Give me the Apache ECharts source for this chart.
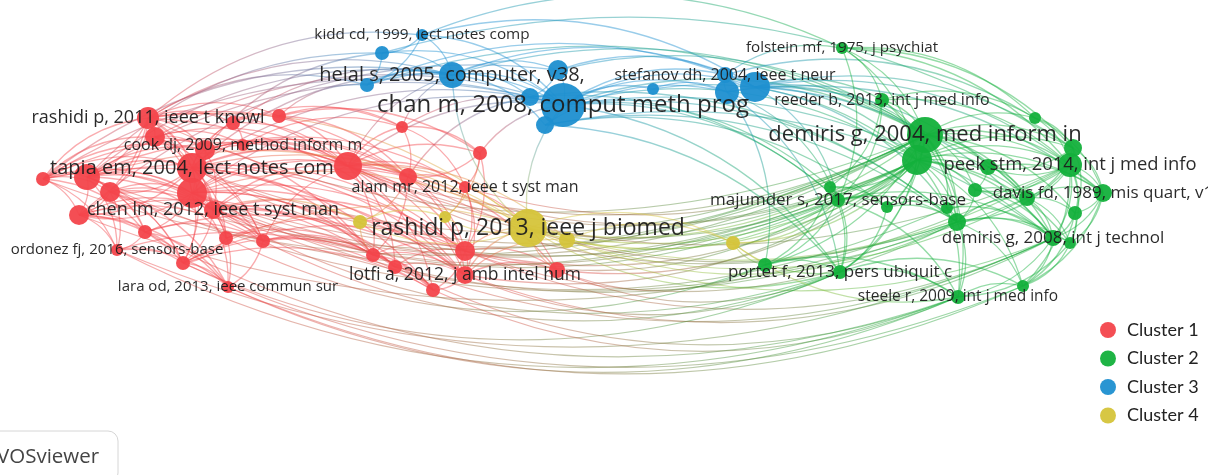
<!DOCTYPE html>
<html>
<head>
<meta charset="utf-8">
<script src="https://cdn.jsdelivr.net/npm/echarts@6/dist/echarts.min.js"></script>
<style>
  html, body { margin: 0; padding: 0; background: #fff; }
  #main { width: 1208px; height: 475px; }
</style>
</head>
<body>
<div id="main"></div>
<script>
// 聚类名称
var clusterNames = ["Cluster 1", "Cluster 2", "Cluster 3", "Cluster 4"];

// 节点：id、地图坐标、权重、所属聚类、标签
var nodeIds = [
  "r0", "r1", "r2", "r3", "r4", "r5", "r6", "r7", "r8", "r9",
  "r10", "r11", "r12", "r13", "r14", "r15", "r16", "r17", "r18", "r19",
  "r20", "r21", "r22", "r23", "r24", "r25", "r26", "r27", "r28", "r29",
  "y0", "y1", "y2", "y3", "y4",
  "b0", "b1", "b2", "b3", "b4", "b5", "b6", "b7", "b8", "b9", "b10", "b11",
  "g0", "g1", "g2", "g3", "g4", "g5", "g6", "g7", "g8", "g9", "g10", "g11",
  "g12", "g13", "g14", "g15", "g16", "g17", "g18", "g19", "g20", "g21", "g22"
];
var mapX = [
  43, 148, 155, 87, 192, 205, 110, 192, 79, 213,
  145, 226, 263, 117, 183, 228, 233, 279, 243, 348,
  402, 480, 408, 465, 373, 395, 465, 465, 433, 557,
  528, 567, 360, 445, 733,
  422, 382, 367, 452, 558, 530, 563, 545, 653, 727, 755, 725,
  842, 882, 925, 917, 1035, 1073, 1070, 988, 975, 830, 838, 887,
  947, 957, 1027, 1103, 1075, 1053, 1070, 765, 840, 958, 1023
];
var mapY = [
  179, 118, 137, 177, 168, 150, 192, 193, 215, 210,
  232, 238, 241, 250, 263, 287, 123, 116, 145, 166,
  127, 153, 177, 187, 255, 267, 251, 275, 290, 270,
  228, 240, 222, 217, 243,
  35, 53, 85, 75, 70, 97, 105, 125, 89, 92, 87, 75,
  48, 100, 135, 160, 118, 148, 165, 167, 190, 187, 200, 207,
  208, 222, 198, 193, 213, 238, 243, 265, 272, 297, 286
];
var weight = [
  7, 11, 10, 13, 15, 10, 10, 15, 10, 9,
  7, 7, 7, 6, 7, 6, 7, 7, 6, 14,
  6, 7, 9, 6, 7, 7, 10, 9, 7, 8,
  19, 8, 7, 6, 7,
  6, 7, 7, 13, 10, 9, 22, 9, 6, 12, 15, 8,
  6, 7, 18, 15, 6, 9, 12, 8, 7, 6, 7, 6,
  6, 9, 8, 9, 7, 8, 6, 7, 7, 7, 6
];
var cluster = [
  0, 0, 0, 0, 0, 0, 0, 0, 0, 0,
  0, 0, 0, 0, 0, 0, 0, 0, 0, 0,
  0, 0, 0, 0, 0, 0, 0, 0, 0, 0,
  3, 3, 3, 3, 3,
  2, 2, 2, 2, 2, 2, 2, 2, 2, 2, 2, 2,
  1, 1, 1, 1, 1, 1, 1, 1, 1, 1, 1, 1,
  1, 1, 1, 1, 1, 1, 1, 1, 1, 1, 1
];
var labels = {
  r1: "rashidi p, 2011, ieee t knowl",
  r4: "tapia em, 2004, lect notes com",
  r9: "chen lm, 2012, ieee t syst man",
  r13: "ordonez fj, 2016, sensors-base",
  r15: "lara od, 2013, ieee commun sur",
  r18: "cook dj, 2009, method inform m",
  r23: "alam mr, 2012, ieee t syst man",
  r27: "lotfi a, 2012, j amb intel hum",
  y0: "rashidi p, 2013, ieee j biomed",
  b0: "kidd cd, 1999, lect notes comp",
  b3: "helal s, 2005, computer, v38,",
  b6: "chan m, 2008, comput meth prog",
  b11: "stefanov dh, 2004, ieee t neur",
  g0: "folstein mf, 1975, j psychiat",
  g1: "reeder b, 2013, int j med info",
  g2: "demiris g, 2004, med inform in",
  g6: "peek stm, 2014, int j med info",
  g10: "majumder s, 2017, sensors-base",
  g15: "davis fd, 1989, mis quart, v1",
  g17: "demiris g, 2008, int j technol",
  g20: "portet f, 2013, pers ubiquit c",
  g21: "steele r, 2009, int j med info"
};

// 连线：源节点 > 目标节点列表
var linkSpec = [
  "r0>r1 r2 r3 r4 r5 r6 r7 r8 r9 r10 r13 r19 r27",
  "r1>r2 r3 r4 r5 r6 r7 r8 r9 r16 r17 r19 r22 r27",
  "r2>r4 r5 r7 r9 r18 r19 r24 r12",
  "r3>r4 r5 r6 r7 r8 r9 r10 r13 r14 r19 r26 r11",
  "r4>r5 r6 r7 r8 r9 r11 r12 r16 r18 r19 r22 r24 r26 r27 r28 r14",
  "r5>r7 r9 r16 r18 r19 r23 r22",
  "r6>r7 r8 r9 r10 r13 r14 r15 r12",
  "r7>r8 r9 r10 r11 r12 r14 r15 r19 r22 r24 r26 r27 r25",
  "r8>r9 r10 r13 r14 r15 r24 r12",
  "r9>r11 r12 r14 r15 r19 r22 r25 r26 r27 r28",
  "r10>r13 r14 r15 r27 r12",
  "r11>r12 r14 r24 r26",
  "r12>r15 r24 r25 r28 r19",
  "r13>r14 r15 r28",
  "r14>r15 r26 r28 r24",
  "r16>r17 r18 r19 r20",
  "r17>r19 r20 r21 r22",
  "r18>r19 r22 r20",
  "r19>r20 r21 r22 r23 r24 r25 r26 r27 r28 r29",
  "r20>r21 r22 r23",
  "r21>r22 r23 r26",
  "r22>r23 r24 r26 r27",
  "r23>r26 r27 r29",
  "r24>r25 r26 r27 r28",
  "r25>r26 r27 r28",
  "r26>r27 r28 r29",
  "r27>r28 r29",
  "g2>r0 r1 r3 r4 r7 r9 r19 r23 y0",
  "g3>r4 r6 r7 r9 r19 r22 r26 r27 r29 y0 y1 y4",
  "g6>r8 r19 y0",
  "g17>r13 r24 r26 r27 y0",
  "g20>r9 r12 r14 r27 r29 y0 y4",
  "g21>r10 r13 r15 r25 r28 y4",
  "g22>r14 r15",
  "g10>r4 r7 r19 r26 y0 y4",
  "g19>r11 r29 y4",
  "g13>r7 r19 r22 r26 y1",
  "g14>r3 y0",
  "g12>r9",
  "r1>y0 b0 b2 b3",
  "r3>y0 b1 b3 b6",
  "r4>y0 b3 b6",
  "r7>y0 b6",
  "r14>y0",
  "r19>y0 y1 b3 b6",
  "r26>y0",
  "r27>y0 y1",
  "r29>y0",
  "r9>y2",
  "r22>y2 b5",
  "r24>y2",
  "r23>y3",
  "r21>y3 b6",
  "y0>y1 y2 y3 y4 b6 b3",
  "y1>y4",
  "y2>y3",
  "r0>b6 b3",
  "r2>b6",
  "r5>b1",
  "r8>b4",
  "r16>b3",
  "r17>b2",
  "r20>b3 b6",
  "b0>b1 b2 b3 b6 b10 g0",
  "b1>b2 b3 b6 g5",
  "b2>b3 b6 b10 g2",
  "b3>b4 b5 b6 b7 b10 g2",
  "b4>b5 b6 b10 g2",
  "b5>b6 g10 g13",
  "b6>b7 b8 b9 b10 b11 g2 g3 g9 g10 g13 g17 g20",
  "b7>b9 g11 g13 g17 g20",
  "b8>b9 g3",
  "b9>b10 b11 g2 g10 g15 g19 g20",
  "b10>b11 g1 g2 g3 g5 g6 g10 g13 g14 g17",
  "b11>g0 g4",
  "g0>g1 g2 g3 g4 g5 g6 g10",
  "g1>g2 g3 g4 g6 g9 g10 g13",
  "g2>g3 g4 g5 g6 g7 g8 g10 g11 g12 g13 g14 g15 g16 g17 g19 g20 g21",
  "g3>g5 g6 g7 g8 g9 g10 g11 g13 g14 g15 g17 g18 g20 g21 g22",
  "g4>g5 g6 g15",
  "g5>g6 g7 g14 g15 g16",
  "g6>g7 g8 g13 g14 g15 g16 g17 g18 g22",
  "g7>g8 g14 g15",
  "g8>g13 g14 g17",
  "g9>g10 g11 g19 g20",
  "g10>g11 g13 g17 g19 g20 g21",
  "g11>g12 g13 g20",
  "g12>g13 g17",
  "g13>g14 g17 g18 g21 g22",
  "g14>g15 g16 g17 g18",
  "g15>g16 g17 g18 g22",
  "g16>g17 g18 g22",
  "g17>g18 g21 g22",
  "g18>g21 g22",
  "g19>g20 g21",
  "g20>g21 g22",
  "g21>g22"
];

// 样式
var clusterColors = ["#f3454b", "#13b03b", "#1d8fd0", "#d5c43a"];
var labelSize = {
  r1: 18, r4: 20, r9: 18, r13: 15, r15: 15, r18: 16, r23: 16, r27: 17.5,
  y0: 23, b0: 15.3, b3: 20, b6: 24, b11: 16,
  g0: 15.2, g1: 16, g2: 22, g6: 18.4, g10: 17, g15: 17, g17: 17, g20: 17, g21: 15.5
};

var chartDom = document.getElementById("main");
var myChart = echarts.init(chartDom);
var option;

var idx = {};
nodeIds.forEach(function (id, i) { idx[id] = i; });

var nodes = nodeIds.map(function (id, i) {
  var lab = labels[id];
  return {
    name: id,
    value: [mapX[i], mapY[i]],
    category: cluster[i],
    symbolSize: weight[i] * 2,
    label: lab ? {
      show: true,
      position: "inside",
      formatter: lab,
      fontSize: labelSize[id],
      color: "#1e1e1e",
      fontFamily: "Open Sans"
    } : { show: false }
  };
});

var links = [];
linkSpec.forEach(function (s) {
  var parts = s.split(">");
  var src = parts[0];
  parts[1].split(" ").forEach(function (tgt) {
    var a = idx[src], b = idx[tgt];
    var dx = mapX[b] - mapX[a], dy = mapY[b] - mapY[a];
    var g;
    if (Math.abs(dx) >= Math.abs(dy)) {
      g = dx > 0 ? [0, 0, 1, 0] : [1, 0, 0, 0];
    } else {
      g = dy > 0 ? [0, 0, 0, 1] : [0, 1, 0, 0];
    }
    links.push({
      source: src,
      target: tgt,
      lineStyle: {
        color: new echarts.graphic.LinearGradient(g[0], g[1], g[2], g[3], [
          { offset: 0, color: clusterColors[cluster[a]] },
          { offset: 1, color: clusterColors[cluster[b]] }
        ])
      }
    });
  });
});

option = {
  backgroundColor: "#fff",
  animation: false,
  grid: { left: 0, right: 0, top: 0, bottom: 0 },
  xAxis: { type: "value", min: 0, max: 1208, show: false },
  yAxis: { type: "value", min: 0, max: 475, inverse: true, show: false },
  legend: {
    orient: "vertical",
    left: 1095,
    top: 316,
    icon: "circle",
    itemWidth: 16,
    itemHeight: 16,
    itemGap: 10.5,
    selectedMode: false,
    textStyle: { fontSize: 18, color: "#222", fontFamily: "Lato", padding: [0, 0, 0, 6] },
    data: clusterNames
  },
  graphic: [
    {
      type: "rect",
      shape: { x: -12, y: 431, width: 130, height: 52, r: 10 },
      style: { fill: "#fff", stroke: "#d6d6d6", lineWidth: 1 }
    },
    {
      type: "text",
      x: -3,
      y: 457,
      style: { text: "VOSviewer", fontSize: 20.5, fill: "#444", fontFamily: "Open Sans", verticalAlign: "middle" }
    }
  ],
  series: [
    {
      type: "graph",
      layout: "none",
      coordinateSystem: "cartesian2d",
      categories: clusterNames.map(function (n, i) {
        return { name: n, itemStyle: { color: clusterColors[i] } };
      }),
      data: nodes,
      links: links,
      lineStyle: { width: 1.3, opacity: 0.45, curveness: 0.22 },
      itemStyle: { opacity: 0.95 },
      emphasis: { disabled: true },
      z: 2
    }
  ]
};
option && myChart.setOption(option);
</script>
</body>
</html>
